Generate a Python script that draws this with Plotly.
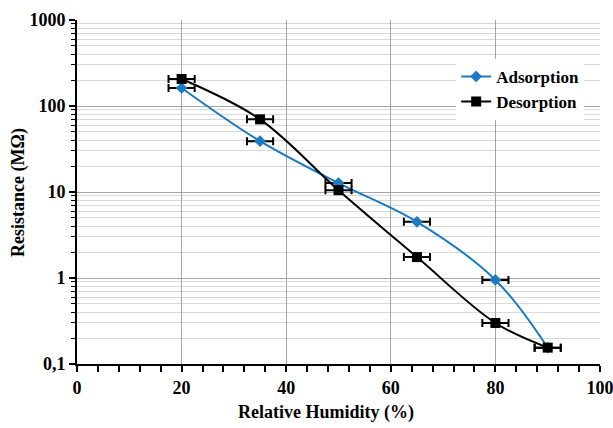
import plotly.graph_objects as go

rh = [20, 35, 50, 65, 80, 90]
adsorption = [162, 39, 12.7, 4.5, 0.95, 0.155]
desorption = [206, 70, 10.5, 1.75, 0.30, 0.155]
rh_err = [2.5, 2.5, 2.5, 2.5, 2.5, 2.5]
y_ticks = [0.1, 1, 10, 100, 1000]
y_labels = ["0,1", "1", "10", "100", "1000"]

FONT = "Liberation Serif, Times New Roman, serif"

err = dict(type="data", array=rh_err, visible=True, color="black", thickness=2, width=4)

fig = go.Figure()
fig.add_trace(go.Scatter(
    x=rh, y=adsorption, name="Adsorption", mode="lines+markers",
    line=dict(color="#1a7ac4", width=2, shape="spline", smoothing=1.0),
    marker=dict(symbol="diamond", size=9, color="#1a7ac4"),
    error_x=err,
))
fig.add_trace(go.Scatter(
    x=rh, y=desorption, name="Desorption", mode="lines+markers",
    line=dict(color="black", width=2, shape="spline", smoothing=1.0),
    marker=dict(symbol="square", size=10, color="black"),
    error_x=err,
))

fig.update_layout(
    width=613, height=428,
    margin=dict(l=77, r=13, t=20, b=64),
    paper_bgcolor="white", plot_bgcolor="white",
    font=dict(family=FONT, size=17, color="black", weight="bold"),
    showlegend=True,
    legend=dict(x=0.725, y=0.887, xanchor="left", yanchor="top",
                bgcolor="white", borderwidth=0,
                font=dict(family=FONT, size=17, color="black", weight="bold"),
                tracegroupgap=0),
    xaxis=dict(
        range=[0, 100], tick0=0, dtick=20, automargin=False,
        ticklabeloverflow="allow",
        showgrid=True, gridcolor="#a6a6a6", gridwidth=1,
        showline=True, linecolor="black", linewidth=2,
        ticks="outside", ticklen=6, tickwidth=1.5, tickcolor="black",
        tickfont=dict(family=FONT, size=18, color="black", weight="bold"),
        minor=dict(dtick=4, ticks="outside", ticklen=6, tickwidth=1.5, tickcolor="black", showgrid=False),
        zeroline=False, mirror=False,
    ),
    yaxis=dict(
        type="log", range=[-1, 3], automargin=False,
        ticklabeloverflow="allow",
        tickvals=y_ticks, ticktext=y_labels,
        showgrid=True, gridcolor="#a6a6a6", gridwidth=1,
        showline=True, linecolor="black", linewidth=2,
        ticks="outside", ticklen=6, tickwidth=1.5, tickcolor="black",
        tickfont=dict(family=FONT, size=18, color="black", weight="bold"),
        minor=dict(dtick="D1", ticks="outside", ticklen=4, tickwidth=1, tickcolor="black",
                   showgrid=True, gridcolor="#d9d9d9", gridwidth=1),
        zeroline=False,
    ),
    annotations=[
        dict(text="Relative Humidity (%)", xref="paper", yref="paper",
             x=0.476, y=-0.142, xanchor="center", yanchor="middle", showarrow=False,
             font=dict(family=FONT, size=18, color="black", weight="bold")),
        dict(text="Resistance (MΩ)", xref="paper", yref="paper",
             x=-0.113, y=0.5, xanchor="center", yanchor="middle", showarrow=False,
             textangle=-90,
             font=dict(family=FONT, size=18, color="black", weight="bold")),
    ],
)
fig.write_html("out.html", config={"displayModeBar": False},
               post_script="document.body.style.margin='0';document.body.style.overflow='hidden';")
